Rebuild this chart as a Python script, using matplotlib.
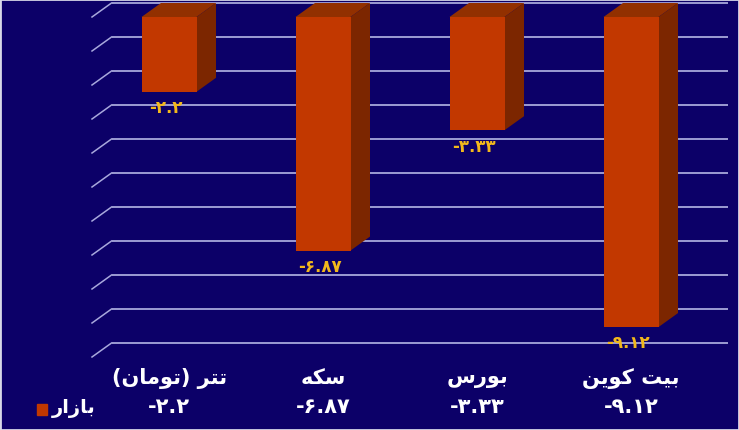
import matplotlib
matplotlib.use("Agg")
import matplotlib.pyplot as plt
from matplotlib.patches import Polygon, Rectangle

# data
categories = ["تتر (تومان)", "سکه", "بورس", "بیت کوین"]
values = [-2.2, -6.87, -3.33, -9.12]
value_labels = ["-۲.۲", "-۶.۸۷", "-۳.۳۳", "-۹.۱۲"]
legend_label = "بازار"
y_ticks = list(range(0, -11, -1))

BG = "#0c0068"
FRONT = "#c23800"
TOP = "#923000"
SIDE = "#7c2600"
GRID = "#a8a8dc"
GOLD = "#f2b81c"

# minimal Persian shaping (matplotlib has no complex text layout)
FORMS = {
    "ا": ("\uFE8D", "\uFE8E", None, None),
    "ب": ("\uFE8F", "\uFE90", "\uFE91", "\uFE92"),
    "ت": ("\uFE95", "\uFE96", "\uFE97", "\uFE98"),
    "ر": ("\uFEAD", "\uFEAE", None, None),
    "ز": ("\uFEAF", "\uFEB0", None, None),
    "س": ("\uFEB1", "\uFEB2", "\uFEB3", "\uFEB4"),
    "ک": ("\uFB8E", "\uFB8F", "\uFB90", "\uFB91"),
    "م": ("\uFEE1", "\uFEE2", "\uFEE3", "\uFEE4"),
    "ن": ("\uFEE5", "\uFEE6", "\uFEE7", "\uFEE8"),
    "ه": ("\uFEE9", "\uFEEA", "\uFEEB", "\uFEEC"),
    "و": ("\uFEED", "\uFEEE", None, None),
    "ی": ("\uFBFC", "\uFBFD", "\uFBFE", "\uFBFF"),
}
MIRROR = {"(": ")", ")": "("}


def shape(text):
    out = []
    for i, ch in enumerate(text):
        if ch not in FORMS:
            out.append(MIRROR.get(ch, ch))
            continue
        prev = text[i - 1] if i > 0 else ""
        nxt = text[i + 1] if i + 1 < len(text) else ""
        joins_prev = prev in FORMS and FORMS[prev][2] is not None
        joins_next = nxt in FORMS and FORMS[ch][2] is not None
        iso, fin, ini, med = FORMS[ch]
        if joins_prev and joins_next:
            out.append(med)
        elif joins_prev:
            out.append(fin)
        elif joins_next:
            out.append(ini)
        else:
            out.append(iso)
    return "".join(reversed(out))


plt.rcParams["font.family"] = ["DejaVu Sans"]

fig = plt.figure(figsize=(7.39, 4.31), dpi=100, facecolor=BG)
ax = fig.add_axes([92 / 739, 73 / 431, 616 / 739, 340 / 431])
ax.set_facecolor(BG)
ax.set_xlim(-0.5, 3.5)
ax.set_ylim(-10, 0)
ax.axis("off")

# depth offset in data units
dx = 19.5 / 154
dy = 14 / 34
width = 55 / 154

# gridlines: back wall lines plus diagonal side wall stubs
for t in y_ticks:
    ax.plot([-0.5 + dx, 3.5 + dx], [t + dy, t + dy], color=GRID, lw=1.3,
            clip_on=False, zorder=1, solid_capstyle="butt")
    ax.plot([-0.5, -0.5 + dx], [t, t + dy], color=GRID, lw=1.1,
            clip_on=False, zorder=1)

xs = list(range(len(categories)))
ax.bar(xs, values, width=width, color=FRONT, zorder=3, linewidth=0)
for x, v in zip(xs, values):
    l, r = x - width / 2, x + width / 2
    ax.add_patch(Polygon([(l, 0), (r, 0), (r + dx, dy), (l + dx, dy)],
                         closed=True, color=TOP, lw=0, zorder=2, clip_on=False))
    ax.add_patch(Polygon([(r, 0), (r + dx, dy), (r + dx, v + dy), (r, v)],
                         closed=True, color=SIDE, lw=0, zorder=2, clip_on=False))

for x, v, lab in zip(xs, values, value_labels):
    ax.text(x - 0.02, v - 0.45, lab, color=GOLD, fontsize=12, fontweight="bold",
            ha="center", va="center", zorder=4)

for x, cat, lab in zip(xs, categories, value_labels):
    ax.text(x, -10.6, shape(cat), color="white", fontsize=15, fontweight="bold",
            ha="center", va="center", clip_on=False)
    ax.text(x, -11.45, lab, color="white", fontsize=15, fontweight="bold",
            ha="center", va="center", clip_on=False)

# legend
fig.patches.append(Rectangle((37 / 739, (431 - 416) / 431), 10 / 739, 11 / 431,
                             transform=fig.transFigure, color=FRONT))
fig.text(52 / 739, (431 - 409) / 431, shape(legend_label), color="white",
         fontsize=14, fontweight="bold", ha="left", va="center")

# thin light frame around the image
fig.patches.append(Rectangle((0, 0), 1, 1, transform=fig.transFigure,
                             fill=False, edgecolor="#d8d8e8", lw=2))

fig.savefig("out.png", dpi=100, facecolor=BG)
